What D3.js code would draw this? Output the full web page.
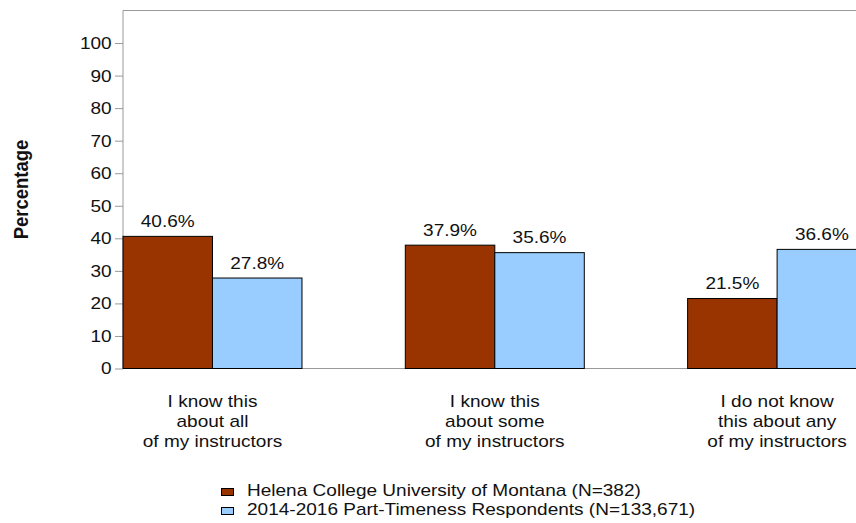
<!DOCTYPE html>
<html>
<head>
<meta charset="utf-8">
<script src="https://cdn.jsdelivr.net/npm/d3@7"></script>
<style>
  body { margin: 0; background: #fff; }
  svg { font-family: Arial, 'Liberation Sans', sans-serif; }
</style>
</head>
<body>
<svg id="chart" width="856" height="523"></svg>
<script>
// chart data
const categories = [
  ['I know this', 'about all', 'of my instructors'],
  ['I know this', 'about some', 'of my instructors'],
  ['I do not know', 'this about any', 'of my instructors']
]
const seriesNames = [
  'Helena College University of Montana (N=382)',
  '2014-2016 Part-Timeness Respondents (N=133,671)'
]
const helena = [40.6, 37.9, 21.5]
const partTime = [27.8, 35.6, 36.6]
const yTicks = [0, 10, 20, 30, 40, 50, 60, 70, 80, 90, 100]
const colors = ['#993300', '#99ccff']

const svg = d3.select('#chart')
const plotLeft = 123
const plotTop = 10.5
const plotBottom = 368.5
const plotRight = 970 // plot runs off the right edge of the picture
const stretch = 1.12 // the source picture is a little wider than tall

const y = d3.scaleLinear().domain([0, 110]).range([plotBottom, plotTop])
const x0 = d3.scaleBand().domain(d3.range(categories.length))
  .range([plotLeft, 866.6]).paddingInner(0.366).paddingOuter(0)
const x1 = d3.scaleBand().domain([0, 1]).range([0, x0.bandwidth()])

const rows = categories.map((c, i) => ({ i, values: [helena[i], partTime[i]] }))

/**
 * put a wide text at a point
 */
const wideText = (sel, px, py) => sel.attr('transform', `translate(${px},${py}) scale(${stretch},1)`)

// frame
svg.append('line').attr('x1', plotLeft).attr('x2', plotRight).attr('y1', plotTop).attr('y2', plotTop)
  .attr('stroke', '#999')
svg.append('line').attr('x1', plotLeft).attr('x2', plotRight).attr('y1', plotBottom).attr('y2', plotBottom)
  .attr('stroke', '#999')

// y axis
const yAxis = svg.append('g').attr('transform', `translate(${plotLeft},0)`)
  .call(d3.axisLeft(y).tickValues(yTicks).tickSize(8).tickPadding(2.1).tickSizeOuter(0))
yAxis.select('.domain').attr('stroke', '#999').attr('d', `M0,${plotTop}V${plotBottom}`)
yAxis.selectAll('.tick line').attr('stroke', '#999')
yAxis.selectAll('.tick text').attr('fill', '#111').style('font-size', '17px')
  .style('font-family', "Arial, 'Liberation Sans', sans-serif")
  .attr('transform', `scale(${stretch},1)`)

svg.append('text')
  .attr('transform', `translate(28,${(plotTop + plotBottom) / 2}) rotate(-90) scale(1,${stretch})`)
  .attr('text-anchor', 'middle')
  .style('font-size', '18.5px').style('font-weight', 'bold')
  .attr('fill', '#111')
  .text('Percentage')

// bars
const groups = svg.selectAll('g.group').data(rows).enter().append('g')
  .attr('class', 'group')
  .attr('transform', (d) => `translate(${x0(d.i)},0)`)

groups.selectAll('rect').data((d) => d.values).enter().append('rect')
  .attr('x', (d, j) => x1(j))
  .attr('y', (d) => y(d))
  .attr('width', x1.bandwidth())
  .attr('height', (d) => y(0) - y(d))
  .attr('fill', (d, j) => colors[j])
  .attr('stroke', '#000')
  .attr('stroke-width', 1)

groups.selectAll('text.val').data((d) => d.values).enter().append('text')
  .attr('class', 'val')
  .each(function(d, j) {
    wideText(d3.select(this), x1(j) + x1.bandwidth() / 2, y(d) - 9.5)
  })
  .attr('text-anchor', 'middle')
  .style('font-size', '17px')
  .attr('fill', '#111')
  .text((d) => d.toFixed(1) + '%')

// category labels
groups.each(function(d) {
  categories[d.i].forEach((line, k) => {
    d3.select(this).append('text')
      .call(wideText, x0.bandwidth() / 2, 407 + k * 20)
      .attr('text-anchor', 'middle')
      .style('font-size', '17px')
      .attr('fill', '#111')
      .text(line)
  })
})

// legend
const legend = svg.selectAll('g.legend').data(seriesNames).enter().append('g')
  .attr('class', 'legend')
  .attr('transform', (d, j) => `translate(221.5,${488.5 + j * 19})`)
legend.append('rect').attr('width', 12).attr('height', 7)
  .attr('fill', (d, j) => colors[j]).attr('stroke', '#000')
legend.append('text')
  .call(wideText, 25.5, 7.5)
  .style('font-size', '17px').attr('fill', '#111')
  .text((d) => d)
</script>
</body>
</html>
